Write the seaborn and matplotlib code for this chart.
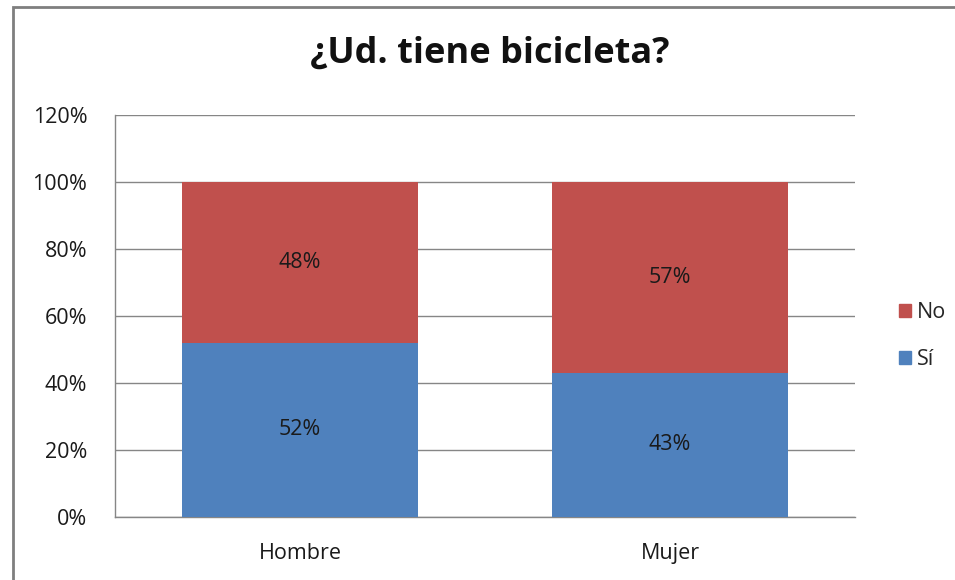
import matplotlib
matplotlib.use("Agg")
import matplotlib.pyplot as plt
import matplotlib.patches as mpatches
import seaborn as sns
import pandas as pd

categories = ["Hombre", "Mujer"]
si_values = [52, 43]
no_values = [48, 57]
series_names = ["No", "Sí"]
yticks = [0, 20, 40, 60, 80, 100, 120]

sns.set_style("white")
plt.rcParams['font.family'] = ['Open Sans', 'DejaVu Sans']

blue = "#4F81BD"
red = "#C0504D"
gray = "#868686"
txt = "#1a1a1a"

fig = plt.figure(figsize=(9.55, 5.8), dpi=100)
ax = fig.add_axes([0.1204, 0.1086, 0.775, 0.693])

df = pd.DataFrame({"cat": categories, "si": si_values, "no": no_values})
df["total"] = df["si"] + df["no"]

sns.barplot(data=df, x="cat", y="total", color=red, width=0.64, ax=ax,
            saturation=1, zorder=3, linewidth=0)
sns.barplot(data=df, x="cat", y="si", color=blue, width=0.64, ax=ax,
            saturation=1, zorder=3, linewidth=0)

for i, (s, n) in enumerate(zip(si_values, no_values)):
    ax.text(i, s / 2, f"{s}%", ha="center", va="center", fontsize=15.5, color=txt, zorder=4)
    ax.text(i, s + n / 2, f"{n}%", ha="center", va="center", fontsize=15.5, color=txt, zorder=4)

ax.set_ylim(0, 120)
ax.set_xlim(-0.5, 1.5)
ax.set_yticks(yticks)
ax.set_yticklabels([f"{t}%" for t in yticks], fontsize=15.5, color=txt)
ax.tick_params(axis="x", labelsize=15.5, colors=txt, length=0, pad=19)
ax.tick_params(axis="y", length=0, pad=20)
ax.set_xlabel("")
ax.set_ylabel("")
ax.yaxis.grid(True, color=gray, linewidth=1, zorder=0)
ax.set_axisbelow(True)
for side in ["top", "right"]:
    ax.spines[side].set_visible(False)
for side in ["left", "bottom"]:
    ax.spines[side].set_color(gray)
    ax.spines[side].set_linewidth(1)

fig.text(0.513, 0.908, "¿Ud. tiene bicicleta?", ha="center", va="center",
         fontsize=26, fontweight="bold", color="#111111")

handles = [mpatches.Patch(color=red, label="No"), mpatches.Patch(color=blue, label="Sí")]
fig.legend(handles=handles, loc="center left", bbox_to_anchor=(0.93, 0.42),
           frameon=False, fontsize=15.5, handlelength=0.55, handleheight=0.55,
           handletextpad=0.3, labelspacing=1.2, borderpad=0)

border = mpatches.Rectangle((13 / 955, -0.05), 1.2, 1 - 7 / 580 + 0.05, transform=fig.transFigure,
                            fill=False, edgecolor="#7f7f7f", linewidth=2, zorder=0)
fig.patches.append(border)

fig.savefig("out.png", dpi=100)
